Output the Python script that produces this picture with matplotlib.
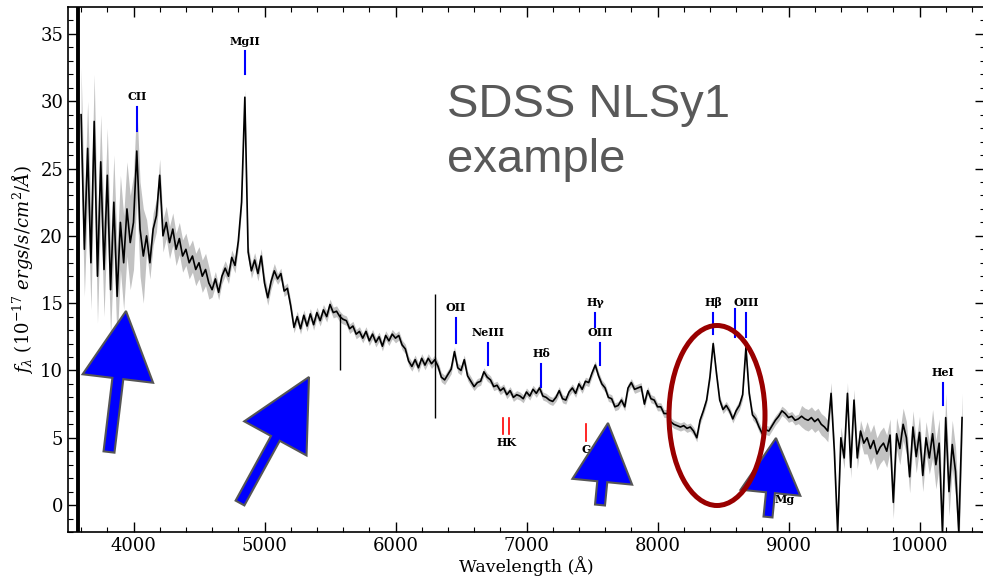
import numpy as np
import matplotlib.pyplot as plt
from matplotlib.patches import Ellipse, FancyArrow
from matplotlib.transforms import IdentityTransform

plt.rcParams['font.family'] = 'DejaVu Serif'
plt.rcParams['mathtext.fontset'] = 'dejavuserif'

# flux (1e-17 erg/s/cm2/A) read every 25 A starting at 3600 A, one row = 500 A
flux = [
    29.0, 19.0, 26.5, 18.0, 28.5, 17.0, 25.5, 17.5, 24.5, 16.0, 22.5, 15.5, 21.0, 18.0, 22.0, 19.5, 21.0, 26.3, 20.5, 18.5,  # 3600
    20.0, 18.0, 20.5, 21.5, 24.5, 20.0, 21.0, 19.5, 20.5, 19.0, 19.8, 18.5, 19.0, 18.0, 18.5, 17.5, 18.0, 17.0, 17.5, 16.5,  # 4100
    16.0, 16.8, 15.8, 17.0, 17.6, 17.0, 18.4, 17.8, 19.6, 22.5, 30.3, 18.8, 17.4, 18.2, 17.2, 18.5, 16.5, 15.4, 16.6, 17.4,  # 4600
    16.8, 17.2, 15.9, 16.1, 14.8, 13.2, 14.0, 13.1, 14.1, 13.3, 14.2, 13.4, 14.3, 13.7, 14.5, 14.0, 14.9, 14.3, 14.4, 14.0,  # 5100
    13.8, 13.7, 13.1, 13.3, 12.7, 12.9, 12.4, 12.9, 12.2, 12.7, 12.1, 12.5, 11.8, 12.6, 12.2, 12.7, 12.4, 12.6, 11.9, 11.6,  # 5600
    10.7, 10.3, 10.8, 10.2, 10.9, 10.4, 10.9, 10.5, 10.8, 10.3, 9.5, 9.3, 9.7, 10.1, 11.4, 10.2, 10.0, 10.8, 9.6, 9.2,  # 6100
    8.8, 9.1, 9.2, 9.9, 9.5, 9.3, 8.8, 8.9, 8.5, 8.7, 8.2, 8.5, 8.0, 8.2, 8.1, 7.9, 8.4, 8.1, 8.6, 8.3,  # 6600
    8.7, 8.1, 8.0, 7.8, 7.7, 8.0, 8.5, 7.9, 7.8, 8.4, 8.7, 8.3, 9.0, 8.6, 9.2, 9.1, 9.8, 10.4, 9.6, 9.0,  # 7100
    8.7, 8.0, 7.9, 7.3, 7.4, 7.8, 7.3, 8.7, 9.1, 8.6, 8.7, 8.8, 7.5, 8.5, 7.9, 7.8, 7.3, 7.3, 6.8, 6.8,  # 7600
    6.2, 6.0, 5.9, 5.8, 5.9, 5.7, 5.8, 5.5, 5.0, 6.3, 7.0, 7.8, 9.5, 12.0, 9.8, 7.8, 7.1, 7.4, 7.0, 6.4,  # 8100
    7.0, 7.4, 8.2, 11.7, 8.3, 6.7, 6.4, 5.8, 5.3, 5.6, 5.5, 5.9, 6.3, 6.6, 7.0, 6.8, 6.5, 6.6, 6.3, 6.4,  # 8600
    6.6, 6.4, 6.3, 6.5, 6.2, 6.4, 6.0, 5.8, 5.5, 8.3, 4.0, -2.0, 5.0, 3.5, 8.3, 2.8, 7.8, 3.5, 5.5, 4.6,  # 9100
    5.0, 4.2, 4.8, 3.8, 4.3, 4.6, 4.0, 5.2, 0.2, 5.3, 4.2, 6.0, 5.0, 2.1, 5.8, 3.6, 5.4, 2.2, 5.0, 3.5,  # 9600
    5.3, 3.0, 4.6, -2.0, 6.5, 1.0, 4.5, 2.5, -2.0, 6.5,  # 10100
]
# 1-sigma error, one value per 500 A row above
flux_err_rows = [3.5, 1.2, 0.55, 0.4, 0.35, 0.35, 0.3, 0.3, 0.3, 0.3, 0.35, 0.8, 1.2, 1.8]
bad_pixel = [3580]
# sky line residuals: wavelength, low, high
sky_waves = [5577, 6300]
sky_low = [10.0, 6.5]
sky_high = [14.2, 15.7]

# emission lines (observed wavelength), marker top / bottom
em_names = ['CII', 'MgII', 'OII', 'NeIII', 'Hδ', 'Hγ', 'OIII', 'Hβ', '', 'OIII', 'HeI']
em_waves = [4030, 4851, 6462, 6706, 7111, 7523, 7561, 8424, 8592, 8676, 10179]
em_top = [29.6, 33.7, 13.9, 12.05, 10.5, 14.3, 12.05, 14.3, 14.6, 14.3, 9.1]
em_bot = [27.8, 32.0, 12.05, 10.4, 8.8, 13.2, 10.4, 12.7, 12.5, 12.5, 7.4]

# absorption lines
ab_waves = [6821, 6870, 7454, 8968]
ab_top = [6.5, 6.5, 6.0, 2.4]
ab_names = ['HK', 'G', 'Mg']
ab_label_waves = [6845, 7454, 8968]
ab_label_y = [4.65, 4.13, 0.42]

flux = np.array(flux)
wave = 3600 + 25 * np.arange(len(flux))
err = np.repeat(flux_err_rows, 20)[:len(flux)]

W, H = 983, 579
fig = plt.figure(figsize=(W / 100, H / 100), dpi=100)
ax = fig.add_axes([68 / W, 47 / H, 917 / W, 525 / H])

ax.fill_between(wave, flux - err, flux + err, color='0.76', lw=0, zorder=1)
ax.plot(wave, flux, color='k', lw=1.2, zorder=2)
ax.vlines(sky_waves, sky_low, sky_high, color='k', lw=1.0, zorder=2)
for b in bad_pixel:
    ax.axvline(b, color='k', lw=2.8, zorder=2)

for name, w, t, b in zip(em_names, em_waves, em_top, em_bot):
    ax.plot([w, w], [b, t], color='blue', lw=1.5, zorder=3)
    if name:
        ax.text(w, t + 0.75, name, ha='center', va='center', fontsize=8,
                fontweight='bold', zorder=6)

for w, t in zip(ab_waves, ab_top):
    ax.plot([w, w], [t - 1.25, t], color='red', lw=1.2, zorder=3)
for name, w, y in zip(ab_names, ab_label_waves, ab_label_y):
    ax.text(w, y, name, ha='center', va='center', fontsize=8,
            fontweight='bold', zorder=6)

ax.set_xlim(3500, 10500)
ax.set_ylim(-2, 37)
ax.set_xticks(np.arange(4000, 10001, 1000))
ax.set_xticks(np.arange(3600, 10500, 200), minor=True)
ax.set_yticks(np.arange(0, 36, 5))
ax.set_yticks(np.arange(-2, 37, 1), minor=True)
ax.tick_params(which='both', direction='in', top=True, right=True, labelsize=13)
ax.tick_params(which='major', length=7, width=1)
ax.tick_params(which='minor', length=3.5, width=0.8)
for s in ax.spines.values():
    s.set_linewidth(1.2)
ax.set_xlabel('Wavelength (Å)', fontsize=12.5, labelpad=1)
ax.set_ylabel(r'$f_\lambda$ ($10^{-17}$ $ergs/s/cm^2/\AA$)', fontsize=13)

# annotation overlay in image pixel coordinates
pix = IdentityTransform()


def arrow(tail, tip, width, head_width, head_length):
    x0, y0 = tail
    x1, y1 = tip
    fig.add_artist(FancyArrow(x0, H - y0, x1 - x0, y0 - y1, width=width,
                              head_width=head_width, head_length=head_length,
                              length_includes_head=True, transform=pix,
                              fc='blue', ec='#555555', lw=1.5, zorder=5))


arrow((109, 452), (126, 311), 11, 71, 68)
arrow((240, 503), (309, 377), 10, 71, 70)
arrow((600, 505), (608, 423), 10, 60, 59)
arrow((768, 517), (776, 438), 9, 60, 55)

fig.add_artist(Ellipse((717, H - 415.5), 96, 180, transform=pix, fill=False,
                       ec='#990000', lw=3.6, zorder=5))

fig.text(447 / W, 1 - 117 / H, 'SDSS NLSy1', fontsize=34, color='#595959',
         family='Liberation Sans', va='baseline')
fig.text(447 / W, 1 - 172 / H, 'example', fontsize=34, color='#595959',
         family='Liberation Sans', va='baseline')

fig.savefig('out.png', dpi=100)
